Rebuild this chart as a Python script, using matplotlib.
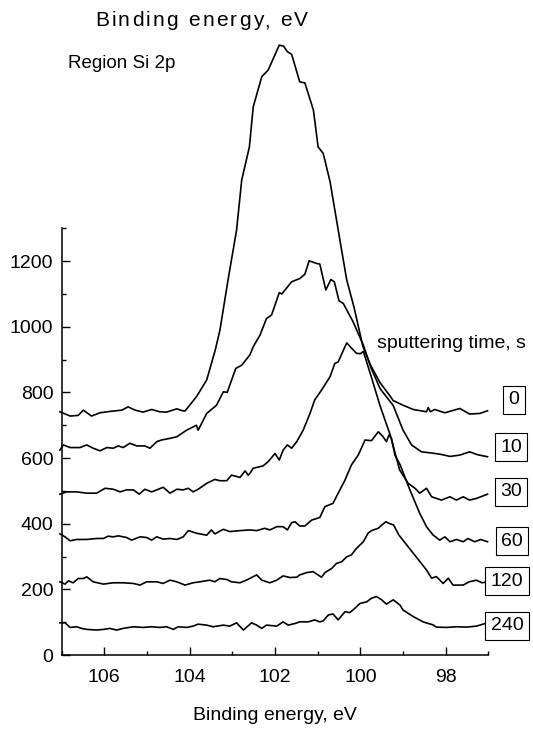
import numpy as np
import matplotlib
matplotlib.use('Agg')
import matplotlib.pyplot as plt

plt.rcParams['font.family'] = 'Liberation Sans'

# sputtering time labels
times = ['0', '10', '30', '60', '120', '240']

# 0 s
x0 = [107.04, 106.8, 106.61, 106.49, 106.3, 106.1, 105.87, 105.59, 105.44, 105.28, 105.09, 104.89, 104.7,
      104.54, 104.3, 104.19, 104.11, 103.84, 103.6, 103.4, 103.29, 103.1, 102.9, 102.78, 102.6, 102.51,
      102.31, 102.16, 101.9, 101.8, 101.71, 101.61, 101.42, 101.3, 101.1, 100.99, 100.87, 100.71, 100.44,
      100.32, 100.15, 100.01, 99.94, 99.77, 99.54, 99.31, 99.23, 99.0, 98.76, 98.45, 98.41, 98.36, 98.26,
      98.02, 97.67, 97.44, 97.2, 97.02]
y0 = [741, 728, 730, 746, 728, 738, 742, 746, 756, 746, 740, 748, 741,
      740, 750, 745, 743, 787, 838, 929, 990, 1143, 1295, 1447, 1548, 1670,
      1762, 1782, 1858, 1855, 1838, 1830, 1746, 1743, 1660, 1548, 1528, 1442, 1234,
      1143, 1060, 980, 940, 885, 830, 790, 775, 761, 748, 741, 754, 741, 748,
      738, 751, 734, 736, 744]

# 10 s
x10 = [107.04, 106.96, 106.8, 106.57, 106.41, 106.26, 106.1, 105.94, 105.79, 105.67, 105.56, 105.4, 105.24,
       105.05, 104.93, 104.77, 104.66, 104.46, 104.3, 104.07, 103.84, 103.8, 103.6, 103.37, 103.21, 103.12,
       102.92, 102.78, 102.59, 102.51, 102.35, 102.2, 102.08, 101.9, 101.84, 101.61, 101.42, 101.3, 101.2,
       101.03, 100.95, 100.81, 100.69, 100.61, 100.5, 100.4, 100.17, 99.93, 99.75, 99.54, 99.23, 99.0, 98.8,
       98.57, 98.37, 98.14, 97.9, 97.67, 97.44, 97.25, 97.02]
y10 = [624, 640, 632, 632, 640, 630, 622, 632, 630, 637, 632, 645, 637,
       637, 630, 650, 655, 660, 665, 685, 700, 685, 736, 761, 802, 800,
       873, 883, 914, 939, 975, 1025, 1036, 1104, 1100, 1137, 1147, 1160, 1201,
       1193, 1191, 1112, 1144, 1137, 1079, 1071, 1015, 944, 875, 812, 760, 685, 640,
       619, 616, 612, 605, 609, 619, 610, 604]

# 30 s
x30 = [107.04, 106.88, 106.65, 106.41, 106.18, 105.98, 105.79, 105.63, 105.48, 105.32, 105.18, 105.05, 104.89,
       104.77, 104.62, 104.46, 104.3, 104.15, 104.03, 103.92, 103.8, 103.6, 103.41, 103.29, 103.13, 103.02,
       102.82, 102.7, 102.63, 102.59, 102.51, 102.28, 102.16, 102.0, 101.9, 101.81, 101.71, 101.61, 101.49,
       101.34, 101.18, 101.07, 100.91, 100.71, 100.6, 100.52, 100.32, 100.2, 100.09, 100.0, 99.93, 99.75,
       99.54, 99.3, 99.08, 98.88, 98.72, 98.61, 98.45, 98.33, 98.1, 97.9, 97.75, 97.59, 97.44, 97.28, 97.02]
y30 = [490, 497, 497, 493, 493, 508, 505, 497, 503, 503, 490, 505, 497,
       503, 511, 493, 505, 503, 508, 497, 505, 523, 535, 531, 531, 548,
       541, 561, 548, 553, 569, 576, 589, 614, 594, 624, 640, 630, 650,
       685, 736, 777, 807, 848, 888, 893, 951, 934, 919, 918, 925, 850,
       760, 670, 564, 523, 508, 493, 508, 482, 472, 482, 472, 482, 472, 477, 490]

# 60 s
x60 = [107.04, 106.92, 106.8, 106.65, 106.41, 106.18, 106.02, 105.91, 105.79, 105.67, 105.48, 105.36, 105.16,
       105.01, 104.89, 104.77, 104.62, 104.46, 104.3, 104.15, 104.03, 103.84, 103.6, 103.49, 103.41, 103.21,
       103.06, 102.82, 102.59, 102.43, 102.24, 102.12, 101.96, 101.81, 101.71, 101.61, 101.53, 101.42, 101.3,
       101.14, 100.95, 100.83, 100.64, 100.52, 100.36, 100.21, 100.05, 99.89, 99.74, 99.58, 99.48, 99.39,
       99.33, 99.27, 99.19, 99.07, 98.84, 98.61, 98.45, 98.3, 98.14, 98.02, 97.9, 97.75, 97.59, 97.48,
       97.32, 97.18, 97.02]
y60 = [369, 360, 348, 352, 352, 355, 355, 362, 360, 363, 358, 350, 360,
       358, 350, 360, 353, 355, 352, 360, 379, 371, 365, 381, 369, 383,
       376, 379, 381, 379, 386, 381, 391, 391, 381, 403, 406, 393, 393,
       411, 419, 452, 462, 493, 533, 579, 609, 655, 653, 680, 667, 650,
       670, 660, 609, 580, 503, 432, 391, 366, 350, 360, 345, 352, 345, 355,
       345, 352, 345]

# 120 s
x120 = [107.04, 106.92, 106.84, 106.73, 106.61, 106.49, 106.41, 106.26, 106.02, 105.79, 105.56, 105.32, 105.16,
        105.01, 104.77, 104.62, 104.46, 104.3, 104.11, 103.92, 103.76, 103.53, 103.41, 103.29, 103.13, 103.02,
        102.82, 102.67, 102.43, 102.31, 102.12, 101.96, 101.81, 101.65, 101.49, 101.42, 101.26, 101.11, 100.91,
        100.83, 100.67, 100.56, 100.44, 100.32, 100.21, 100.09, 99.93, 99.82, 99.74, 99.58, 99.5, 99.4,
        99.33, 99.22, 99.1, 98.76, 98.45, 98.33, 98.22, 98.06, 97.94, 97.83, 97.59, 97.45, 97.28, 97.15, 97.02]
y120 = [223, 216, 226, 220, 233, 233, 238, 223, 216, 220, 220, 218, 213,
        223, 223, 218, 228, 223, 213, 220, 223, 228, 223, 233, 230, 223,
        220, 228, 244, 228, 220, 228, 241, 236, 237, 244, 251, 254, 237,
        251, 264, 279, 284, 299, 305, 325, 345, 371, 379, 386, 396, 406,
        401, 396, 366, 310, 259, 234, 239, 218, 234, 213, 213, 223, 228, 220, 223]

# 240 s
x240 = [107.04, 106.92, 106.8, 106.65, 106.53, 106.41, 106.18, 106.02, 105.87, 105.71, 105.56, 105.32, 105.09,
        104.89, 104.7, 104.54, 104.38, 104.27, 104.07, 103.92, 103.8, 103.6, 103.45, 103.21, 103.06, 102.9,
        102.74, 102.55, 102.43, 102.31, 102.2, 101.96, 101.81, 101.69, 101.53, 101.42, 101.22, 101.07, 100.95,
        100.87, 100.75, 100.64, 100.52, 100.36, 100.25, 100.13, 100.01, 99.85, 99.74, 99.62, 99.5, 99.39,
        99.23, 99.07, 99.0, 98.76, 98.53, 98.41, 98.3, 98.22, 97.98, 97.75, 97.51, 97.28, 97.02]
y240 = [98, 98, 84, 86, 81, 78, 76, 78, 81, 76, 81, 86, 84,
        86, 84, 86, 78, 86, 84, 88, 94, 91, 86, 91, 88, 98,
        76, 98, 91, 81, 91, 88, 101, 91, 96, 101, 101, 107, 101,
        104, 122, 125, 107, 132, 129, 142, 157, 162, 173, 178, 168, 155,
        168, 152, 137, 117, 101, 96, 92, 85, 84, 86, 85, 88, 98]

curves = [(x0, y0), (x10, y10), (x30, y30), (x60, y60), (x120, y120), (x240, y240)]
# label box centres (figure pixels)
label_pos = [(514, 400), (511, 447), (511, 492), (512, 541), (507, 581), (507, 626)]

W, H = 533, 729
fig = plt.figure(figsize=(W / 100, H / 100), dpi=100)
ax = fig.add_axes([61.6 / W, 1 - 655 / H, (488.4 - 61.6) / W, (655 - 228.3) / H])

for xs, ys in curves:
    ax.plot(xs, ys, color='black', lw=1.2, clip_on=False)

ax.set_xlim(107, 97)
ax.set_ylim(0, 1300)
ax.set_xticks([106, 104, 102, 100, 98])
ax.set_xticks([107, 105, 103, 101, 99, 97], minor=True)
ax.set_yticks(np.arange(0, 1201, 200))
ax.set_yticks(np.arange(100, 1301, 200), minor=True)
ax.spines['top'].set_visible(False)
ax.spines['right'].set_visible(False)
ax.spines['left'].set_linewidth(1.1)
ax.spines['bottom'].set_linewidth(1.1)
ax.tick_params(which='major', direction='in', length=6, width=1, labelsize=14, pad=6)
ax.tick_params(which='minor', direction='in', length=3, width=1)
ax.tick_params(axis='x', which='major', pad=10)
ax.set_xlabel('Binding energy, eV', fontsize=14, labelpad=15)

for t, (px, py) in zip(times, label_pos):
    fig.text(px / W, 1 - py / H, t, fontsize=14, ha='center', va='center',
             bbox=dict(boxstyle='square,pad=0.28', fc='white', ec='black', lw=0.8))

fig.text(377 / W, 1 - 344 / H, 'sputtering time, s', fontsize=14, va='center')
fig.text(68 / W, 1 - 64 / H, 'Region Si 2p', fontsize=13.5, va='center')

# letter-spaced title at the top
title = 'Binding energy, eV'
r = fig.canvas.get_renderer()


def text_w(s):
    tt = fig.text(0, 0, s, fontsize=15)
    w = tt.get_window_extent(r).width
    tt.remove()
    return w


x_start = 95
for i, ch in enumerate(title):
    if ch == ' ':
        continue
    xpos = x_start + text_w(title[:i + 1]) - text_w(ch) + i * 2.2
    fig.text(xpos / W, 1 - 21 / H, ch, fontsize=15, va='center', ha='left')

plt.savefig('out.png', dpi=100)
